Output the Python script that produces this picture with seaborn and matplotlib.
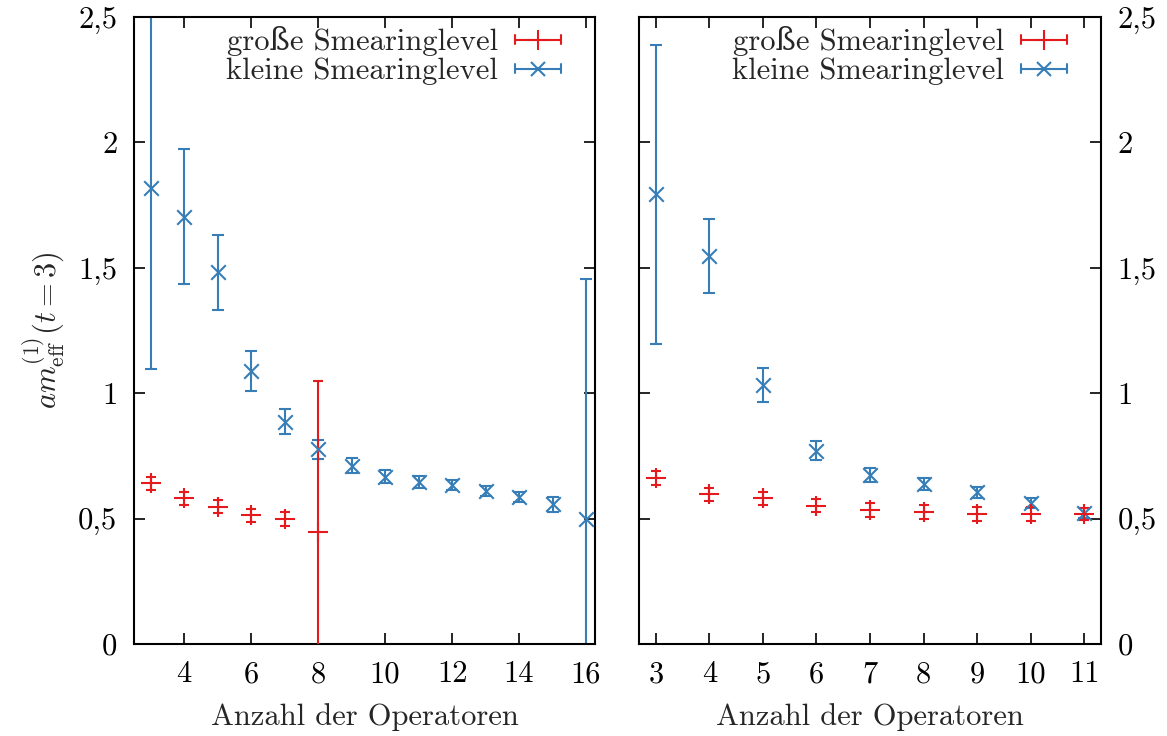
import matplotlib
matplotlib.use("Agg")
import matplotlib.pyplot as plt
from matplotlib.lines import Line2D
from matplotlib.legend_handler import HandlerBase
from matplotlib.ticker import FixedLocator, FuncFormatter
import numpy as np
import pandas as pd
import seaborn as sns

# ---- data: left panel (operators 3..16) ----
left_big_x = [3, 4, 5, 6, 7, 8]
left_big_y = [0.641, 0.581, 0.548, 0.513, 0.497, 0.448]
left_big_err = [0.025, 0.025, 0.025, 0.025, 0.028, 0.600]

left_small_x = [3, 4, 5, 6, 7, 8, 9, 10, 11, 12, 13, 14, 15, 16]
left_small_y = [1.818, 1.704, 1.482, 1.090, 0.886, 0.776, 0.711, 0.667,
                0.646, 0.633, 0.610, 0.585, 0.557, 0.497]
left_small_err = [0.72, 0.27, 0.15, 0.08, 0.05, 0.038, 0.030, 0.026,
                  0.024, 0.020, 0.020, 0.020, 0.030, 0.96]

# ---- data: right panel (operators 3..11) ----
right_big_x = [3, 4, 5, 6, 7, 8, 9, 10, 11]
right_big_y = [0.661, 0.597, 0.581, 0.552, 0.534, 0.525, 0.520, 0.518, 0.518]
right_big_err = [0.028, 0.027, 0.027, 0.027, 0.028, 0.028, 0.028, 0.028, 0.025]

right_small_x = [3, 4, 5, 6, 7, 8, 9, 10, 11]
right_small_y = [1.793, 1.547, 1.033, 0.770, 0.675, 0.637, 0.605, 0.561, 0.521]
right_small_err = [0.595, 0.147, 0.068, 0.038, 0.028, 0.023, 0.022, 0.020, 0.020]

label_big = "große Smearinglevel"
label_small = "kleine Smearinglevel"
xlabel = "Anzahl der Operatoren"
ylabel = r"$am^{(1)}_{\mathrm{eff}}(t=3)$"
yticks = [0, 0.5, 1, 1.5, 2, 2.5]
left_xticks = [4, 6, 8, 10, 12, 14, 16]
right_xticks = [3, 4, 5, 6, 7, 8, 9, 10, 11]

sns.set_theme(style="ticks")
plt.rcParams["font.family"] = ["cmr10", "DejaVu Serif"]
plt.rcParams["mathtext.fontset"] = "cm"
plt.rcParams["axes.formatter.use_mathtext"] = False

pal = sns.color_palette("Set1")
c_big, c_small = pal[0], pal[1]
FS = 22
LW = 1.5
MS_PLUS = 15
MS_X = 10.5


class ErrorbarKeyHandler(HandlerBase):
    """Horizontal key: line with end caps and a marker in the middle."""

    def __init__(self, marker, color, msize):
        super().__init__()
        self.marker = marker
        self.color = color
        self.msize = msize

    def create_artists(self, legend, orig_handle, xdescent, ydescent,
                       width, height, fontsize, trans):
        y = height / 2.0 - ydescent
        x0, x1 = -xdescent, -xdescent + width
        cap = 0.2 * height
        arts = [
            Line2D([x0, x1], [y, y], color=self.color, lw=LW),
            Line2D([x0, x0], [y - cap, y + cap], color=self.color, lw=LW),
            Line2D([x1, x1], [y - cap, y + cap], color=self.color, lw=LW),
            Line2D([(x0 + x1) / 2], [y], marker=self.marker, color=self.color,
                   markersize=self.msize, mew=LW, ls="none"),
        ]
        for a in arts:
            a.set_transform(trans)
        return arts


def comma(v, _pos):
    s = f"{v:g}"
    return s.replace(".", ",")


def draw_panel(ax, bx, by, be, sx, sy, se):
    big = pd.DataFrame({"x": bx, "y": by, "err": be})
    small = pd.DataFrame({"x": sx, "y": sy, "err": se})
    ax.errorbar(big["x"], big["y"], yerr=big["err"], fmt="none",
                ecolor=c_big, elinewidth=LW, capsize=3.5, capthick=LW, zorder=3)
    ax.errorbar(small["x"], small["y"], yerr=small["err"], fmt="none",
                ecolor=c_small, elinewidth=LW, capsize=4, capthick=LW, zorder=2)
    sns.scatterplot(data=big, x="x", y="y", marker="+", s=MS_PLUS ** 2,
                    color=c_big, linewidth=LW, ax=ax, zorder=4, legend=False)
    sns.scatterplot(data=small, x="x", y="y", marker="x", s=MS_X ** 2,
                    color=c_small, linewidth=LW, ax=ax, zorder=3, legend=False)

    ax.set_ylim(0, 2.5)
    ax.yaxis.set_major_locator(FixedLocator(yticks))
    ax.yaxis.set_major_formatter(FuncFormatter(comma))
    ax.tick_params(direction="in", length=8, width=1.2, top=True, right=True,
                   labelsize=FS, colors="black")
    ax.tick_params(axis="x", pad=12)
    ax.tick_params(axis="y", pad=12)
    for sp in ax.spines.values():
        sp.set_linewidth(1.5)
        sp.set_color("black")
    ax.set_xlabel(xlabel, fontsize=FS, labelpad=11)
    ax.set_ylabel("")

    h_big = Line2D([], [], color=c_big)
    h_small = Line2D([], [], color=c_small)
    ax.legend([h_big, h_small], [label_big, label_small],
              handler_map={h_big: ErrorbarKeyHandler("+", c_big, MS_PLUS),
                           h_small: ErrorbarKeyHandler("x", c_small, MS_X)},
              loc="upper right", bbox_to_anchor=(0.926, 0.985),
              frameon=False, markerfirst=False, fontsize=FS,
              handlelength=1.5, handletextpad=0.55, labelspacing=0.05,
              borderpad=0, borderaxespad=0)


fig = plt.figure(figsize=(11.67, 7.36), dpi=100)
ax1 = fig.add_axes([0.1148, 0.125, 0.3951, 0.8519])
ax2 = fig.add_axes([0.5478, 0.125, 0.3954, 0.8519])

draw_panel(ax1, left_big_x, left_big_y, left_big_err,
           left_small_x, left_small_y, left_small_err)
ax1.set_xlim(2.5, 16.27)
ax1.xaxis.set_major_locator(FixedLocator(left_xticks))
ax1.set_ylabel(ylabel, fontsize=FS, labelpad=8)

draw_panel(ax2, right_big_x, right_big_y, right_big_err,
           right_small_x, right_small_y, right_small_err)
ax2.set_xlim(2.69, 11.31)
ax2.xaxis.set_major_locator(FixedLocator(right_xticks))
ax2.tick_params(labelleft=False, labelright=True)

fig.savefig("out.png", dpi=100)
